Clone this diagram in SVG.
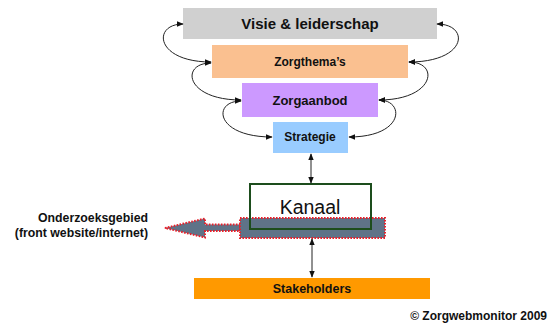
<svg xmlns="http://www.w3.org/2000/svg" width="553" height="324" viewBox="0 0 553 324">
<style>
text{font-family:"Liberation Sans",Arial,sans-serif;fill:#111;text-anchor:middle}
.b{font-weight:bold}
.c{fill:none;stroke:#222;stroke-width:1;marker-start:url(#ah);marker-end:url(#ah)}
.red{stroke:#e8202a;stroke-width:2;stroke-dasharray:1.6 1.4}
</style>
<defs>
<marker id="ah" viewBox="0 0 10 10" refX="9" refY="5" markerWidth="7" markerHeight="7" orient="auto-start-reverse" markerUnits="userSpaceOnUse">
<path d="M0,1 L10,5 L0,9 Z" fill="#111"/>
</marker>
</defs>
<rect width="553" height="324" fill="#fff"/>
<g id="visie"><rect x="183" y="8" width="254" height="31" fill="#d0d0d0"/><text class="b" x="310" y="29" font-size="15">Visie &amp; leiderschap</text></g>
<g id="zorgthemas"><rect x="212" y="45" width="196" height="33" fill="#fac090"/><text class="b" x="310" y="66" font-size="12">Zorgthema’s</text></g>
<g id="zorgaanbod"><rect x="242" y="83" width="136" height="34" fill="#cc99ff"/><text class="b" x="310" y="105" font-size="13">Zorgaanbod</text></g>
<g id="strategie"><rect x="273" y="122" width="75" height="31" fill="#99ccff"/><text class="b" x="310" y="141" font-size="12">Strategie</text></g>
<g id="kanaal">
<rect x="250" y="184" width="121" height="45" fill="#fff"/>
<text x="310" y="214" font-size="19.5">Kanaal</text>
</g>
<g id="onderzoeksgebied">
<polygon class="red" points="165,228 205,218.5 205,224.5 240,224.5 240,231 205,231 205,237.5" fill="#5f7388"/>
<rect class="red" x="240" y="218" width="145" height="20" fill="#5f7388"/>
<rect x="250" y="184" width="121" height="45" fill="none" stroke="#1d4d1d" stroke-width="2"/>
<text class="b" x="148" y="222" font-size="12.3" style="text-anchor:end">Onderzoeksgebied</text>
<text class="b" x="148" y="237" font-size="12.3" style="text-anchor:end">(front website/internet)</text>
</g>
<g id="stakeholders"><rect x="194" y="278" width="236" height="21" fill="#ff9900"/><text class="b" x="312" y="293" font-size="12.5">Stakeholders</text></g>
<g id="copyright"><text class="b" x="547" y="320" font-size="12" style="text-anchor:end">© Zorgwebmonitor 2009</text></g>
<g id="connectors">
<path class="c" d="M183,24 C152,24 155,62 211,62"/>
<path class="c" d="M211,63 C180,63 185,100 241,100"/>
<path class="c" d="M241,101 C212,101 215,137 272,137"/>
<path class="c" d="M437,24 C470,24 468,62 409,62"/>
<path class="c" d="M409,62 C440,62 435,100 379,100"/>
<path class="c" d="M379,100 C405,100 405,137 349,137"/>
<path class="c" d="M311,154 L311,183"/>
<path class="c" d="M312,239 L312,277"/>
</g>
</svg>
